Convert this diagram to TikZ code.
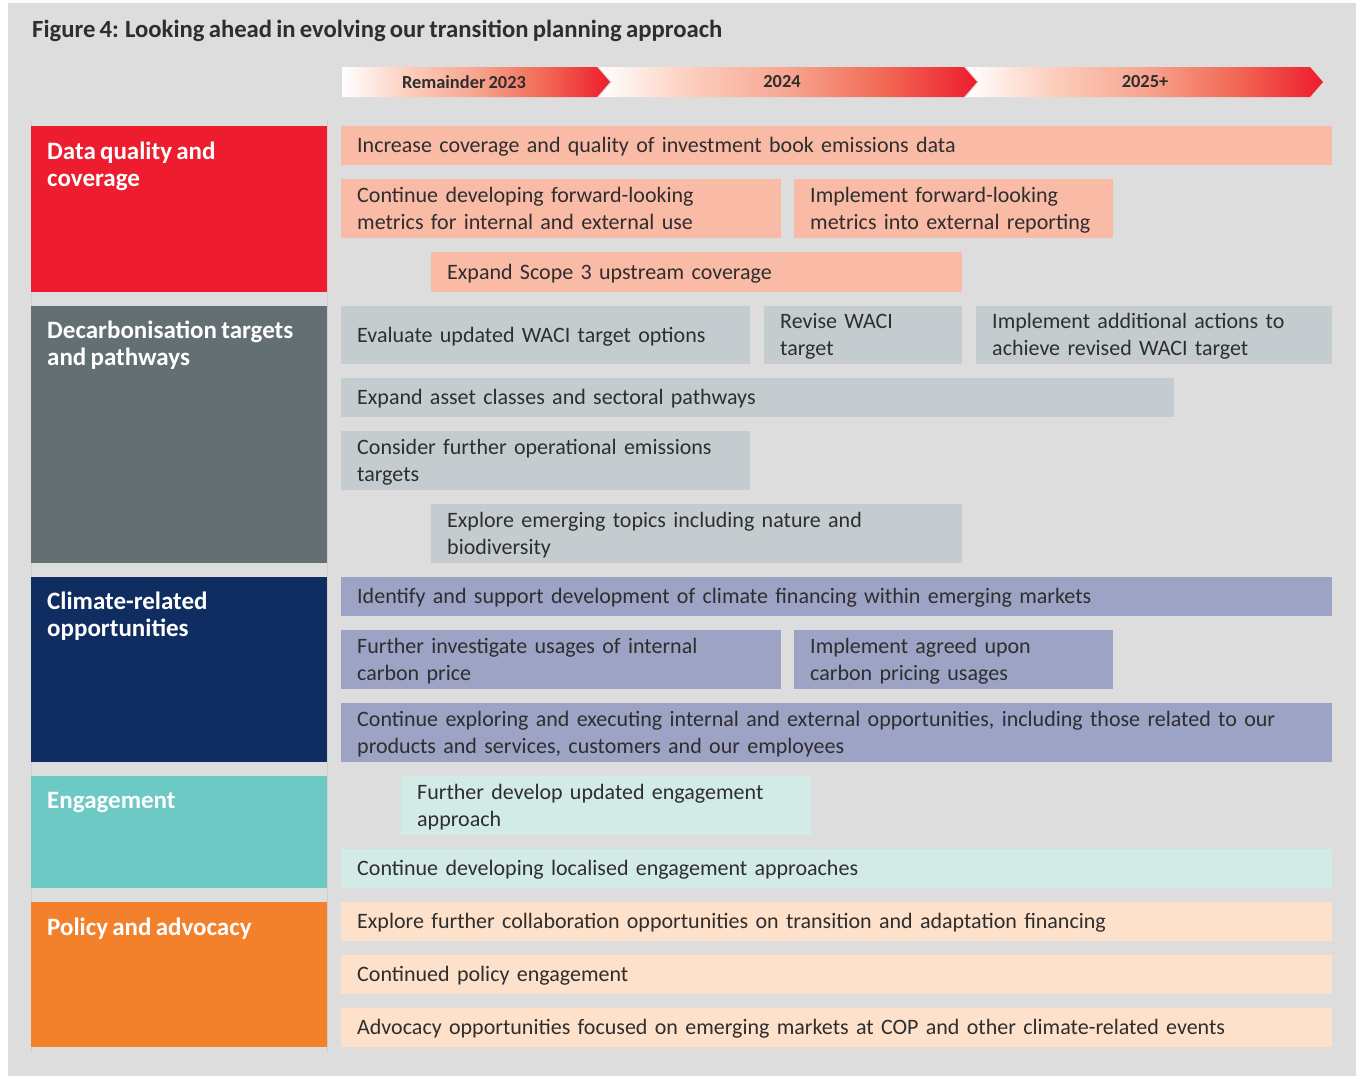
\documentclass[tikz,border=0pt]{standalone}
\usepackage{fontspec}
\setmainfont{Carlito}[WordSpace=0.75]
\usetikzlibrary{positioning}

\definecolor{bggrey}{HTML}{DCDDDC}
\definecolor{gridline}{HTML}{CDCFCE}
\definecolor{txtdark}{HTML}{2E2E2E}
\definecolor{tlred}{HTML}{ED1C2E}
\definecolor{tlorange}{HTML}{F26A55}
\definecolor{tlmid}{HTML}{F7A590}
\definecolor{tlpeach}{HTML}{FCCDBB}
\definecolor{dqred}{HTML}{ED1C2E}
\definecolor{dcgrey}{HTML}{646F74}
\definecolor{crnavy}{HTML}{0F2D61}
\definecolor{enteal}{HTML}{6CC9C4}
\definecolor{paorange}{HTML}{F3812B}
\definecolor{dqfill}{HTML}{FABBA6}
\definecolor{dcfill}{HTML}{C5CCCF}
\definecolor{crfill}{HTML}{9CA3C4}
\definecolor{enfill}{HTML}{D2EBE7}
\definecolor{pafill}{HTML}{FDE1CB}

% white to red shading for the timeline
\pgfdeclarehorizontalshading{tlshade}{100bp}{color(0bp)=(white); color(25bp)=(white);
  color(37.5bp)=(tlpeach); color(50bp)=(tlmid); color(62.5bp)=(tlorange);
  color(75bp)=(tlred); color(100bp)=(tlred)}

\tikzset{
  act/.style={anchor=north west, align=left, inner xsep=16pt, inner ysep=0pt,
    text=txtdark, font=\fontsize{22}{27}\selectfont,
    execute at begin node={\rule{0pt}{20pt}},
    execute at end node={\rule[-6pt]{0pt}{6pt}}},
  catlbl/.style={anchor=north west, align=left, inner sep=0pt, text=white,
    font=\fontsize{25}{27}\selectfont\bfseries},
  yearlbl/.style={text=txtdark, font=\fontsize{18.4}{20}\selectfont\bfseries}
}

\begin{document}
\begin{tikzpicture}[x=1pt, y=-1pt]

% page and grey panel
\fill[white] (0,0) rectangle (1356,1076);
\useasboundingbox (0,0) rectangle (1356,1076);
\fill[bggrey] (8,3) rectangle (1356,1076);

% title
\node[anchor=west, inner sep=0pt, text=txtdark, font=\fontsize{24.7}{28}\selectfont\bfseries]
  (title) at (32,31) {Figure 4: Looking ahead in evolving our transition planning approach};

% timeline chevrons, white to red
\shade[shading=tlshade]
  (342,67) -- (597,67) -- (610,82) -- (597,97) -- (342,97) -- cycle;
\shade[shading=tlshade]
  (599,67) -- (964,67) -- (977,82) -- (964,97) -- (599,97) -- (612,82) -- cycle;
\shade[shading=tlshade]
  (966,67) -- (1310,67) -- (1323,82) -- (1310,97) -- (966,97) -- (979,82) -- cycle;
\node[yearlbl] (yr1) at (464,82) {Remainder 2023};
\node[yearlbl] (yr2) at (782,82) {2024};
\node[yearlbl] (yr3) at (1145,82) {2025+};

% faint column rules
\draw[gridline, line width=0.8pt] (31,120) -- (31,1053);
\draw[gridline, line width=0.8pt] (327.5,120) -- (327.5,1053);

% category blocks on the left
\fill[dqred] (31,126) rectangle (327,292);
\fill[dcgrey] (31,306) rectangle (327,563);
\fill[crnavy] (31,577) rectangle (327,762);
\fill[enteal] (31,776) rectangle (327,888);
\fill[paorange] (31,902) rectangle (327,1047);
\node[catlbl] (cat1) at (47,142) {Data quality and\\coverage};
\node[catlbl] (cat2) at (47,321) {Decarbonisation targets\\and pathways};
\node[catlbl] (cat3) at (47,592) {Climate-related\\opportunities};
\node[catlbl] (cat4) at (47,792) {Engagement};
\node[catlbl] (cat5) at (47,918) {Policy and advocacy};

% data quality and coverage
\node[act, fill=dqfill, text width=959pt, minimum height=39pt] (dq1) at (341,126)
  {Increase coverage and quality of investment book emissions data};
\node[act, fill=dqfill, text width=408pt, minimum height=59pt] (dq2) at (341,179)
  {Continue developing forward-looking\\metrics for internal and external use};
\node[act, fill=dqfill, text width=287pt, minimum height=59pt] (dq3) at (794,179)
  {Implement forward-looking\\metrics into external reporting};
\node[act, fill=dqfill, text width=499pt, minimum height=40pt] (dq4) at (431,252)
  {Expand Scope 3 upstream coverage};

% decarbonisation targets and pathways
\node[act, fill=dcfill, text width=377pt, minimum height=58pt] (dc1) at (341,306)
  {Evaluate updated WACI target options};
\node[act, fill=dcfill, text width=166pt, minimum height=58pt] (dc2) at (764,306)
  {Revise WACI\\target};
\node[act, fill=dcfill, text width=324pt, minimum height=58pt] (dc3) at (976,306)
  {Implement additional actions to\\achieve revised WACI target};
\node[act, fill=dcfill, text width=801pt, minimum height=39pt] (dc4) at (341,378)
  {Expand asset classes and sectoral pathways};
\node[act, fill=dcfill, text width=377pt, minimum height=59pt] (dc5) at (341,431)
  {Consider further operational emissions\\targets};
\node[act, fill=dcfill, text width=499pt, minimum height=59pt] (dc6) at (431,504)
  {Explore emerging topics including nature and\\biodiversity};

% climate-related opportunities
\node[act, fill=crfill, text width=959pt, minimum height=39pt] (cr1) at (341,577)
  {Identify and support development of climate financing within emerging markets};
\node[act, fill=crfill, text width=408pt, minimum height=59pt] (cr2) at (341,630)
  {Further investigate usages of internal\\carbon price};
\node[act, fill=crfill, text width=287pt, minimum height=59pt] (cr3) at (794,630)
  {Implement agreed upon\\carbon pricing usages};
\node[act, fill=crfill, text width=959pt, minimum height=59pt] (cr4) at (341,703)
  {Continue exploring and executing internal and external opportunities, including those related to our\\products and services, customers and our employees};

% engagement
\node[act, fill=enfill, text width=378pt, minimum height=59pt] (en1) at (401,776)
  {Further develop updated engagement\\approach};
\node[act, fill=enfill, text width=959pt, minimum height=39pt] (en2) at (341,849)
  {Continue developing localised engagement approaches};

% policy and advocacy
\node[act, fill=pafill, text width=959pt, minimum height=39pt] (pa1) at (341,902)
  {Explore further collaboration opportunities on transition and adaptation financing};
\node[act, fill=pafill, text width=959pt, minimum height=39pt] (pa2) at (341,955)
  {Continued policy engagement};
\node[act, fill=pafill, text width=959pt, minimum height=39pt] (pa3) at (341,1008)
  {Advocacy opportunities focused on emerging markets at COP and other climate-related events};

\end{tikzpicture}
\end{document}
